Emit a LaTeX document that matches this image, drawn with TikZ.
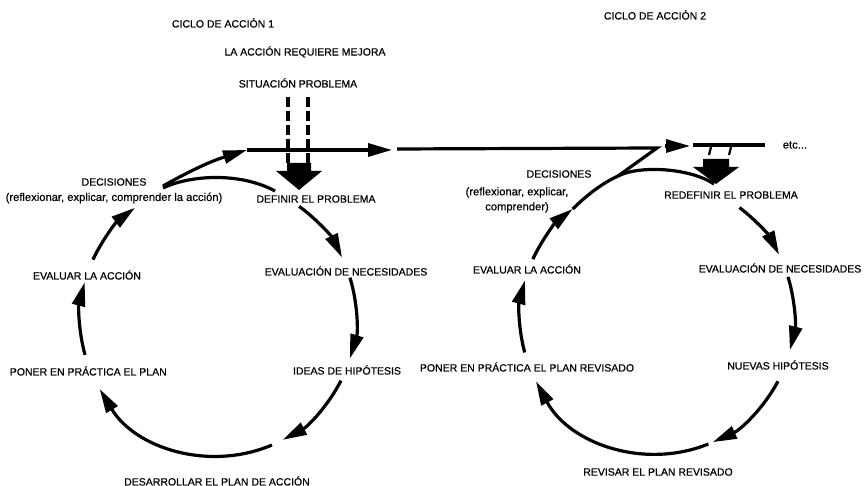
\documentclass[tikz,border=0pt]{standalone}
\usepackage{fontspec}
\setmainfont{Liberation Sans}
\newfontfamily\scanfont{Liberation Sans}[FakeBold=0.5]
\usetikzlibrary{arrows.meta,calc}
\begin{document}
\begin{tikzpicture}[x=1pt,y=1pt,
  captext/.style={font=\scanfont\fontsize{10.5}{12}\selectfont, inner sep=0pt},
  lowtext/.style={font=\scanfont\fontsize{11.2}{15}\selectfont, inner sep=0pt, align=center},
  flow/.style={line width=3.2pt, -{Triangle[length=24pt,width=13pt]}},
  barline/.style={line width=3.2pt},
  tickmark/.style={line width=2.2pt},
  dshline/.style={line width=3.2pt, dash pattern=on 10pt off 4pt},
  blockarrow/.style={fill=black, draw=none}]
\fill[white] (0,0) rectangle (864,486);
\useasboundingbox (0,0) rectangle (864,486);

% ---------- titles ----------
\node[captext] (t1) at (223,463) {CICLO DE ACCIÓN 1};
\node[captext] (t2) at (305,434) {LA ACCIÓN REQUIERE MEJORA};
\node[captext] (t3) at (298,403) {SITUACIÓN PROBLEMA};
\node[captext] (t4) at (655,471) {CICLO DE ACCIÓN 2};

% ---------- cycle 1 labels ----------
\node[captext] (dec1) at (114,304) {DECISIONES};
\node[lowtext] (ref1) at (114,288) {(reflexionar, explicar, comprender la acción)};
\node[captext] (def1) at (316,287) {DEFINIR EL PROBLEMA};
\node[captext] (evn1) at (346,215) {EVALUACIÓN DE NECESIDADES};
\node[captext] (idh) at (347,116) {IDEAS DE HIPÓTESIS};
\node[captext] (des) at (217,5) {DESARROLLAR EL PLAN DE ACCIÓN};
\node[captext, anchor=east] (pon1) at (167,115) {PONER EN PRÁCTICA EL PLAN};
\node[captext] (eva1) at (87,211) {EVALUAR LA ACCIÓN};

% ---------- cycle 2 labels ----------
\node[captext] (dec2) at (559,312) {DECISIONES};
\node[lowtext] (ref2) at (517,286) {(reflexionar, explicar,\\comprender)};
\node[captext] (red) at (731,291) {REDEFINIR EL PROBLEMA};
\node[lowtext] (etc) at (795,341) {etc...};
\node[captext] (evn2) at (780,218) {EVALUACIÓN DE NECESIDADES};
\node[captext] (nh) at (778,121) {NUEVAS HIPÓTESIS};
\node[captext] (pon2) at (527,119) {PONER EN PRÁCTICA EL PLAN REVISADO};
\node[captext] (rev) at (658,14) {REVISAR EL PLAN REVISADO};
\node[captext] (eva2) at (527,217) {EVALUAR LA ACCIÓN};

% ---------- situation arrows ----------
\coordinate (d1s) at (288,389); \coordinate (d1e) at (288,323);
\coordinate (d2s) at (308,389); \coordinate (d2e) at (308,323);
\draw[dshline] (d1s) -- (d1e);
\draw[dshline] (d2s) -- (d2e);

% ---------- top line ----------
\coordinate (f1) at (163,300);
\coordinate (l1s) at (247,336);
\coordinate (l1a) at (392,336);
\coordinate (l2s) at (397,337);
\coordinate (z1) at (657,338);
\coordinate (z2) at (618,310);
\draw[flow] (f1) to[bend left=6] (l1s);
\draw[flow] (l1s) -- (l1a);
\draw[barline, line join=miter] (l2s) -- (z1) -- (z2);
\coordinate (a2s) at (665,340); \coordinate (a2e) at (690,340);
\draw[flow] (a2s) -- (a2e);
\coordinate (l3s) at (693,341); \coordinate (l3e) at (765,341);
\draw[barline] (l3s) -- (l3e);
\coordinate (k1s) at (711,339); \coordinate (k1e) at (709,331);
\coordinate (k2s) at (731,339); \coordinate (k2e) at (729,331);
\draw[tickmark] (k1s) -- (k1e);
\draw[tickmark] (k2s) -- (k2e);

% ---------- block arrows ----------
\fill[blockarrow] (287,323) -- (311,323) -- (311,315) -- (322,315) -- (299,296) -- (276,315) -- (287,315) -- cycle;
\fill[blockarrow] (703,327) -- (729,327) -- (729,319) -- (739,319) -- (716,302) -- (693,319) -- (703,319) -- cycle;

% ---------- cycle 1 ----------
\coordinate (C1) at (218,168);
\coordinate (c1a) at ($(C1)+(54:138)$);
\coordinate (c1b) at ($(C1)+(17:138)$);
\coordinate (c1c) at ($(C1)+(-27:138)$);
\coordinate (c1d) at ($(C1)+(-67:138)$);
\coordinate (c1e) at ($(C1)+(195.5:138)$);
\coordinate (c1f) at ($(C1)+(155:138)$);
\draw[flow] (c1a) arc[start angle=54, end angle=26, radius=138];
\draw[flow] (c1b) arc[start angle=17, end angle=-17, radius=138];
\draw[flow] (c1c) arc[start angle=-27, end angle=-62, radius=138];
\draw[flow] (c1d) arc[start angle=-67, end angle=-149, radius=138];
\draw[flow] (c1e) arc[start angle=195.5, end angle=165, radius=138];
\draw[flow] (c1f) arc[start angle=155, end angle=127, radius=138];
\coordinate (f1b) at (163,298);
\coordinate (f1e) at (275,295);
\draw[barline] (f1b) .. controls (190,311) and (240,314) .. (f1e);

% ---------- cycle 2 ----------
\coordinate (C2) at (657,169);
\coordinate (c2a) at ($(C2)+(53:137)$);
\coordinate (c2b) at ($(C2)+(17:137)$);
\coordinate (c2c) at ($(C2)+(-28:137)$);
\coordinate (c2d) at ($(C2)+(-68:137)$);
\coordinate (c2e) at ($(C2)+(195:137)$);
\coordinate (c2f) at ($(C2)+(155:137)$);
\coordinate (c2t) at ($(C2)+(128:137)$);
\draw[flow] (c2a) arc[start angle=53, end angle=27, radius=137];
\draw[flow] (c2b) arc[start angle=17, end angle=-14, radius=137];
\draw[flow] (c2c) arc[start angle=-28, end angle=-66, radius=137];
\draw[flow] (c2d) arc[start angle=-68, end angle=-152, radius=137];
\draw[flow] (c2e) arc[start angle=195, end angle=164.5, radius=137];
\draw[flow] (c2f) arc[start angle=155, end angle=128, radius=137];
\draw[barline] (c2t) .. controls (590,294) and (605,304) .. (z2);
\coordinate (c2top) at (714,302);
\draw[barline] (z2) .. controls (640,321) and (690,318) .. (c2top);
\end{tikzpicture}
\end{document}
